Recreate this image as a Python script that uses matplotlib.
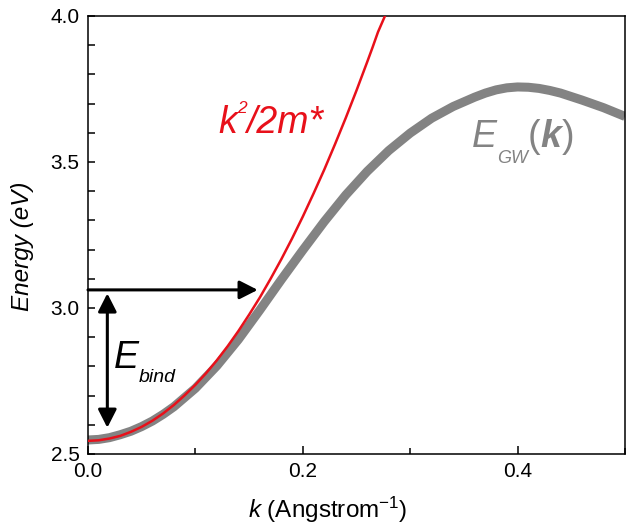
import numpy as np
import matplotlib
matplotlib.use("Agg")
import matplotlib.pyplot as plt
from matplotlib.ticker import MultipleLocator

plt.rcParams['font.family'] = ['Liberation Sans', 'DejaVu Sans']
plt.rcParams['mathtext.fontset'] = 'custom'
plt.rcParams['mathtext.rm'] = 'Liberation Sans'
plt.rcParams['mathtext.it'] = 'Liberation Sans:italic'
plt.rcParams['mathtext.bf'] = 'Liberation Sans:bold'

# GW exciton dispersion
k_gw = [0.00, 0.01, 0.02, 0.03, 0.04, 0.05, 0.06, 0.07, 0.08, 0.10,
        0.12, 0.14, 0.16, 0.18, 0.20, 0.22, 0.24, 0.26, 0.28, 0.30,
        0.32, 0.34, 0.36, 0.37, 0.38, 0.39, 0.40, 0.41, 0.42, 0.43,
        0.44, 0.46, 0.48, 0.50]
E_gw = [2.548, 2.550, 2.556, 2.566, 2.578, 2.594, 2.613, 2.636, 2.662, 2.725,
        2.802, 2.892, 2.993, 3.097, 3.198, 3.296, 3.387, 3.468, 3.539, 3.599,
        3.650, 3.690, 3.722, 3.736, 3.747, 3.754, 3.757, 3.756, 3.752, 3.745,
        3.736, 3.712, 3.686, 3.656]

# effective-mass parabola k^2/2m*
k_par = [0.00, 0.01, 0.02, 0.03, 0.04, 0.05, 0.06, 0.07, 0.08, 0.09,
         0.10, 0.11, 0.12, 0.13, 0.14, 0.15, 0.16, 0.17, 0.18, 0.19,
         0.20, 0.21, 0.22, 0.23, 0.24, 0.25, 0.26, 0.265, 0.27, 0.2765]
E_par = [2.545, 2.547, 2.553, 2.562, 2.576, 2.593, 2.614, 2.639, 2.668, 2.701,
         2.737, 2.777, 2.821, 2.869, 2.921, 2.977, 3.036, 3.100, 3.167, 3.238,
         3.313, 3.392, 3.474, 3.561, 3.651, 3.745, 3.843, 3.893, 3.945, 4.000]

# binding-energy arrows
E_exc = 3.062      # level of horizontal arrow
k_hit = 0.158      # where horizontal arrow meets the parabola
k_bind = 0.018     # position of double arrow
E_low = 2.59       # bottom of double arrow
E_high = 3.05      # top of double arrow

W, H = 629, 529
fig = plt.figure(figsize=(W / 100, H / 100), dpi=100)
ax = fig.add_axes([88 / W, (H - 454) / H, 537 / W, 438 / H])

ax.plot(k_gw, E_gw, color='#838383', lw=6.5, solid_capstyle='butt',
        solid_joinstyle='round', zorder=2)
ax.plot(k_par, E_par, color='#e8101a', lw=1.8, solid_joinstyle='round', zorder=3)

arrow = dict(arrowstyle='-|>,head_length=0.55,head_width=0.28', color='black',
             lw=2.2, shrinkA=0, shrinkB=0, mutation_scale=20)
ax.annotate('', xy=(k_hit, E_exc), xytext=(0, E_exc), arrowprops=arrow, zorder=4)
arrow2 = dict(arrow, arrowstyle='<|-|>,head_length=0.55,head_width=0.28')
ax.annotate('', xy=(k_bind, E_low), xytext=(k_bind, E_high), arrowprops=arrow2, zorder=4)

ax.set_xlim(0, 0.5)
ax.set_ylim(2.5, 4.0)
ax.xaxis.set_major_locator(MultipleLocator(0.2))
ax.xaxis.set_minor_locator(MultipleLocator(0.1))
ax.yaxis.set_major_locator(MultipleLocator(0.5))
ax.yaxis.set_minor_locator(MultipleLocator(0.1))
ax.tick_params(which='both', direction='in', top=False, right=False, width=1.1,
               labelsize=15)
ax.tick_params(axis='x', which='major', length=5.8, pad=6)
ax.tick_params(axis='x', which='minor', length=4)
ax.tick_params(axis='y', which='both', length=5.2, pad=6)
for s in ax.spines.values():
    s.set_linewidth(1.1)

fig.text(23 / W, 1 - 246 / H, 'Energy (eV)', rotation=90, fontsize=17.5,
         style='italic', ha='center', va='center')
fig.text(328 / W, 1 - 518 / H, r'$\mathit{k}$ (Angstrom$^{-1}$)', fontsize=17.5,
         ha='center', va='baseline')

fig.canvas.draw()
renderer = fig.canvas.get_renderer()


def chain(x, y, pieces, color):
    # pieces: (text, size, style, weight, baseline offset in px)
    for txt, size, style, weight, dy in pieces:
        t = fig.text(x / W, 1 - (y + dy) / H, txt, fontsize=size, style=style,
                     weight=weight, color=color, ha='left', va='baseline')
        x += t.get_window_extent(renderer).width


chain(218, 133, [('k', 27, 'italic', 'normal', 0),
                 ('2', 12.5, 'italic', 'normal', -20),
                 ('/2m*', 27, 'italic', 'normal', 0)], '#e8101a')
chain(472, 147, [('E', 27, 'italic', 'normal', 0),
                 ('GW', 13, 'italic', 'normal', 16),
                 ('(', 27, 'normal', 'normal', 0),
                 ('k', 27, 'italic', 'bold', 0),
                 (')', 27, 'normal', 'normal', 0)], '#838383')
chain(114, 368, [('E', 27, 'italic', 'normal', 0),
                 ('bind', 14, 'italic', 'normal', 14)], 'black')

fig.savefig('out.png', dpi=100)
